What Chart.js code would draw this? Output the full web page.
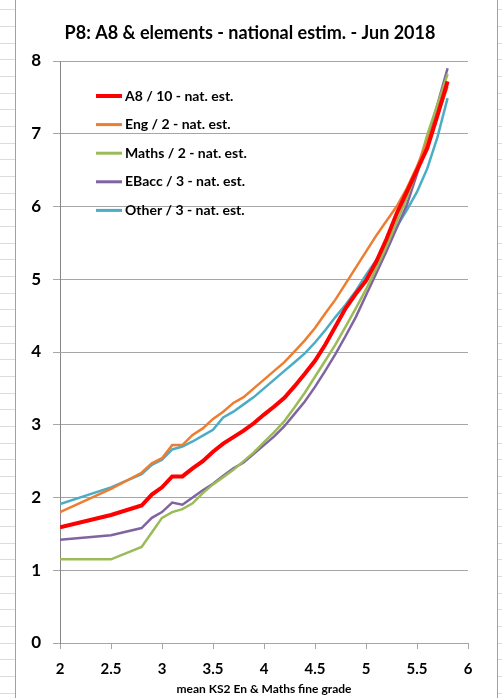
<!DOCTYPE html>
<html lang="en">
<head>
  <meta charset="UTF-8">
  <title>P8: A8 & elements - national estim. - Jun 2018</title>
  <script src="https://cdn.jsdelivr.net/npm/chart.js"></script>
  <style>
    body { margin: 0; background: #ffffff; }
    .chart-container { position: relative; width: 502px; height: 698px; }
  </style>
</head>
<body>
  <div class="chart-container">
    <canvas id="p8Chart"></canvas>
  </div>

  <script>
    // mean KS2 En & Maths fine grade
    const grades = [2, 2.5, 2.8, 2.9, 3.0, 3.1, 3.2, 3.3, 3.4, 3.5, 3.6, 3.7, 3.8, 3.9, 4.0, 4.1,
                    4.2, 4.3, 4.4, 4.5, 4.6, 4.7, 4.8, 4.9, 5.0, 5.1, 5.2, 5.3, 5.4, 5.5, 5.6, 5.7, 5.8];

    const a8 = [1.59, 1.76, 1.89, 2.04, 2.14, 2.29, 2.29, 2.40, 2.50, 2.63, 2.74, 2.83, 2.92, 3.02, 3.14, 3.25,
                3.37, 3.53, 3.70, 3.88, 4.10, 4.35, 4.60, 4.80, 4.98, 5.24, 5.55, 5.90, 6.20, 6.50, 6.80, 7.25, 7.72];
    const eng = [1.80, 2.12, 2.34, 2.47, 2.54, 2.72, 2.72, 2.86, 2.95, 3.08, 3.18, 3.30, 3.38, 3.50, 3.62, 3.74,
                 3.86, 4.01, 4.16, 4.33, 4.53, 4.72, 4.94, 5.16, 5.38, 5.60, 5.80, 6.00, 6.25, 6.55, 6.90, 7.25, 7.65];
    const maths = [1.15, 1.15, 1.32, 1.52, 1.72, 1.80, 1.84, 1.92, 2.06, 2.18, 2.28, 2.38, 2.50, 2.62, 2.76, 2.90,
                   3.05, 3.24, 3.44, 3.66, 3.88, 4.10, 4.35, 4.60, 4.86, 5.15, 5.45, 5.78, 6.12, 6.50, 6.98, 7.40, 7.82];
    const ebacc = [1.42, 1.48, 1.58, 1.72, 1.80, 1.93, 1.90, 2.00, 2.10, 2.19, 2.30, 2.40, 2.48, 2.60, 2.72, 2.84,
                   2.98, 3.15, 3.32, 3.52, 3.74, 3.97, 4.22, 4.48, 4.78, 5.08, 5.38, 5.70, 6.02, 6.45, 6.92, 7.40, 7.90];
    const other = [1.91, 2.14, 2.32, 2.45, 2.52, 2.66, 2.70, 2.77, 2.85, 2.93, 3.10, 3.18, 3.28, 3.38, 3.50, 3.62,
                   3.74, 3.86, 3.98, 4.13, 4.30, 4.48, 4.65, 4.84, 5.06, 5.26, 5.48, 5.72, 5.95, 6.20, 6.52, 6.95, 7.49];

    const seriesNames = ['A8 / 10 - nat. est.', 'Eng / 2 - nat. est.', 'Maths / 2 - nat. est.',
                         'EBacc / 3 - nat. est.', 'Other / 3 - nat. est.'];
    const xTicks = [2, 2.5, 3, 3.5, 4, 4.5, 5, 5.5, 6];
    const yTicks = [0, 1, 2, 3, 4, 5, 6, 7, 8];

    const seriesValues = [a8, eng, maths, ebacc, other];
    const colors = ['#ff0000', '#ed7d31', '#9bbb59', '#8064a2', '#4bacc6'];
    const widths = [4, 2.5, 2.5, 2.5, 2.5];

    function toPoints(values) {
      return values.map(function(v, i) { return { x: grades[i], y: v }; });
    }

    // background, frame, title and legend drawn on the canvas
    const decorPlugin = {
      id: 'decor',
      beforeDraw: function(chart) {
        const ctx = chart.ctx;
        ctx.save();
        ctx.fillStyle = '#ffffff';
        ctx.fillRect(0, 0, chart.width, chart.height);
        // spreadsheet row lines outside the chart frame
        ctx.strokeStyle = '#dcdcdc';
        ctx.lineWidth = 1;
        for (let y = 9.3; y < chart.height; y += 16.67) {
          const yy = Math.round(y) + 0.5;
          ctx.beginPath();
          ctx.moveTo(0, yy); ctx.lineTo(15, yy);
          ctx.moveTo(498, yy); ctx.lineTo(502, yy);
          ctx.stroke();
        }
        ctx.strokeStyle = '#a0a0a0';
        ctx.beginPath();
        ctx.moveTo(15.5, 0); ctx.lineTo(15.5, chart.height);
        ctx.moveTo(497.5, 0); ctx.lineTo(497.5, chart.height);
        ctx.stroke();
        ctx.restore();
      },
      afterDraw: function(chart) {
        const ctx = chart.ctx;
        ctx.save();
        ctx.fillStyle = '#000000';
        ctx.font = 'bold 18px Lato';
        ctx.textAlign = 'center';
        ctx.textBaseline = 'middle';
        ctx.fillText('P8: A8 & elements - national estim. - Jun 2018', 250, 33);

        // legend inside plot area
        ctx.font = 'bold 14px Lato';
        ctx.textAlign = 'left';
        chart.data.datasets.forEach(function(ds, i) {
          const y = 96 + i * 28.6;
          ctx.strokeStyle = ds.borderColor;
          ctx.lineWidth = i === 0 ? 4 : 3;
          ctx.beginPath();
          ctx.moveTo(96, y);
          ctx.lineTo(122, y);
          ctx.stroke();
          ctx.fillText(ds.label, 125, y);
        });
        ctx.restore();
      }
    };

    const ctx = document.getElementById('p8Chart').getContext('2d');
    const chart = new Chart(ctx, {
      type: 'line',
      data: {
        datasets: seriesNames.map(function(name, i) {
          return {
            label: name,
            data: toPoints(seriesValues[i]),
            borderColor: colors[i],
            backgroundColor: colors[i],
            borderWidth: widths[i],
            pointRadius: 0,
            tension: 0,
            fill: false
          };
        })
      },
      plugins: [decorPlugin],
      options: {
        responsive: true,
        maintainAspectRatio: false,
        animation: false,
        layout: {
          padding: { left: 15, right: 34, top: 61, bottom: 0 }
        },
        plugins: {
          legend: { display: false },
          title: { display: false },
          tooltip: { enabled: false }
        },
        scales: {
          x: {
            type: 'linear',
            min: 2,
            max: 6,
            afterFit: function(scale) { scale.height = 55; },
            afterBuildTicks: function(scale) {
              scale.ticks = xTicks.map(function(v) { return { value: v }; });
            },
            grid: {
              drawOnChartArea: false,
              drawTicks: true,
              tickLength: 6,
              color: '#a6a6a6'
            },
            border: { display: true, color: '#a6a6a6' },
            ticks: {
              color: '#000000',
              font: { family: 'Lato', size: 15, weight: 'bold' },
              padding: 11,
              maxRotation: 0,
              callback: function(value) { return String(value); }
            },
            title: {
              display: true,
              text: 'mean KS2 En & Maths fine grade',
              color: '#000000',
              font: { family: 'Lato', size: 12, weight: 'bold' },
              padding: { top: 0, bottom: 2 }
            }
          },
          y: {
            min: 0,
            max: 8,
            afterFit: function(scale) { scale.width = 45; },
            afterBuildTicks: function(scale) {
              scale.ticks = yTicks.map(function(v) { return { value: v }; });
            },
            grid: {
              color: '#a6a6a6',
              lineWidth: 1,
              drawTicks: true,
              tickLength: 7
            },
            border: { display: true, color: '#868686' },
            ticks: {
              color: '#000000',
              font: { family: 'Lato', size: 17, weight: 'bold' },
              padding: 12
            }
          }
        }
      }
    });
  </script>
</body>
</html>
